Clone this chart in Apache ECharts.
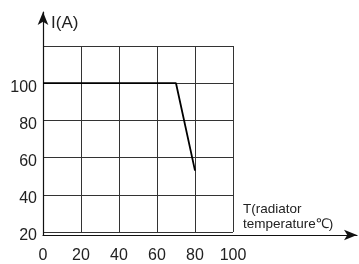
<!DOCTYPE html>
<html>
<head>
<meta charset="utf-8">
<script src="https://cdn.jsdelivr.net/npm/echarts@6/dist/echarts.min.js"></script>
<style>
  html, body { margin: 0; padding: 0; background: #fff; }
  #chart { width: 359px; height: 264px; }
</style>
</head>
<body>
<div id="chart"></div>
<script>
// derating curve: current vs radiator temperature
const temps = [0, 70, 80];
const currents = [100, 100, 53];
const xTicks = [0, 20, 40, 60, 80, 100];
const yTicks = [20, 40, 60, 80, 100];

const chart = echarts.init(document.getElementById('chart'));
const font = 'Liberation Sans, Arial, sans-serif';

const option = {
  animation: false,
  grid: [
    { left: 43, top: 46, right: 126, bottom: 29 },
    { left: 43, top: 12, right: 2, bottom: 29 }
  ],
  xAxis: [
    {
      gridIndex: 0, type: 'value', min: 0, max: 100, interval: 20,
      axisLine: { show: false },
      axisTick: { show: false },
      axisLabel: {
        margin: 16, fontSize: 16, color: '#222', fontFamily: font,
        formatter: v => xTicks.includes(v) ? String(v) : ''
      },
      splitLine: { show: true, lineStyle: { color: '#333', width: 1 } }
    },
    {
      gridIndex: 1, type: 'value', min: 0, max: 1,
      axisLine: { show: true, symbol: ['none', 'arrow'], symbolSize: [8, 13], lineStyle: { color: '#111', width: 1.2 } },
      axisTick: { show: false }, axisLabel: { show: false }, splitLine: { show: false }
    }
  ],
  yAxis: [
    {
      gridIndex: 0, type: 'value', min: 20, max: 120, interval: 20,
      axisLine: { show: false },
      axisTick: { show: false },
      axisLabel: {
        margin: 6, fontSize: 16, color: '#222', fontFamily: font,
        verticalAlign: 'top', lineHeight: 8,
        formatter: v => yTicks.includes(v) ? String(v) : ''
      },
      splitLine: { show: true, lineStyle: { color: '#333', width: 1 } }
    },
    {
      gridIndex: 1, type: 'value', min: 0, max: 1,
      axisLine: { show: true, symbol: ['none', 'arrow'], symbolSize: [8, 13], lineStyle: { color: '#111', width: 1.2 } },
      axisTick: { show: false }, axisLabel: { show: false }, splitLine: { show: false }
    }
  ],
  graphic: [
    {
      type: 'text', left: 51, top: 15,
      style: { text: 'I(A)', fontSize: 17, fill: '#222', fontFamily: font }
    },
    {
      type: 'text', left: 243, top: 202,
      style: { text: 'T(radiator\ntemperature℃)', fontSize: 13.5, lineHeight: 15, fill: '#222', fontFamily: font }
    }
  ],
  series: [
    {
      type: 'line',
      xAxisIndex: 0, yAxisIndex: 0,
      data: temps.map((t, i) => [t, currents[i]]),
      showSymbol: false,
      lineStyle: { color: '#000', width: 1.8 }
    }
  ]
};

chart.setOption(option);
</script>
</body>
</html>
